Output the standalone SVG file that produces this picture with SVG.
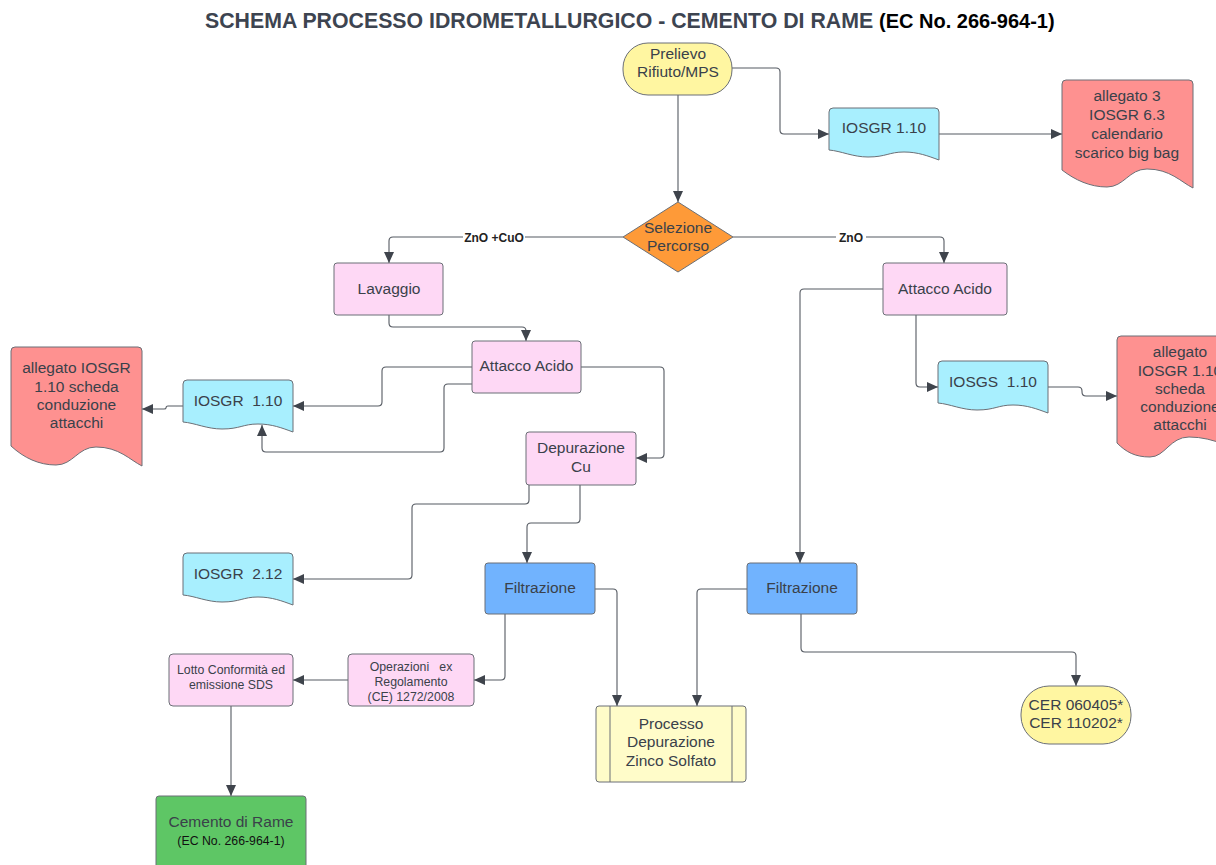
<svg xmlns="http://www.w3.org/2000/svg" width="1216" height="865" viewBox="0 0 1216 865" xml:space="preserve">
<defs>
<marker id="ar" markerUnits="userSpaceOnUse" markerWidth="12" markerHeight="10" refX="11" refY="5" orient="auto">
<path d="M0,0 L11,5 L0,10 Z" fill="#3f444c"/>
</marker>
<style>
.t{font-family:"Liberation Sans",Arial,sans-serif;font-size:15.5px;fill:#3a414a;text-anchor:middle;white-space:pre}
.s{font-size:12.3px}
.sh{stroke:#6b6f76;stroke-width:1}
.pink{fill:#fed8f5}
.blue{fill:#71b3fe}
.cyan{fill:#a8effe}
.red{fill:#fe9190}
.yel{fill:#fff6a1}
.lyel{fill:#fffcc9}
.grn{fill:#5ec665}
.c{fill:none;stroke:#555a62;stroke-width:1.1;marker-end:url(#ar)}
.lbl{font-family:"Liberation Sans",Arial,sans-serif;font-size:12px;font-weight:bold;fill:#222;text-anchor:middle}
</style>
</defs>
<rect width="1216" height="865" fill="#ffffff"/>
<text x="205" y="28" font-family="Liberation Sans,Arial,sans-serif" font-weight="bold" font-size="21.3" fill="#3d4450">SCHEMA PROCESSO IDROMETALLURGICO - CEMENTO DI RAME <tspan font-size="20" fill="#000">(EC No. 266-964-1)</tspan></text>

<g id="connectors">
<path class="c" d="M732,68 H776 Q780,68 780,72 V130 Q780,134 784,134 H829"/>
<path class="c" d="M939,134 H1062"/>
<path class="c" d="M678,95 V202"/>
<path class="c" d="M623,237 H393 Q389,237 389,241 V263"/>
<path class="c" d="M733,237 H940 Q944,237 944,241 V263"/>
<path class="c" d="M389,315 V323 Q389,327 393,327 H522 Q526,327 526,331 V341"/>
<path class="c" d="M472,367 H386 Q382,367 382,371 V402 Q382,406 378,406 H293"/>
<path class="c" d="M472,384 H448 Q444,384 444,388 V448 Q444,452 440,452 H266 Q262,452 262,448 V425"/>
<path class="c" d="M183,406 H168 Q166,406 166,408 Q166,409 164,409 H142"/>
<path class="c" d="M581,367 H660 Q664,367 664,371 V454 Q664,458 660,458 H636"/>
<path class="c" d="M529,485 V500 Q529,504 525,504 H416 Q412,504 412,508 V575 Q412,579 408,579 H293"/>
<path class="c" d="M580,485 V519 Q580,523 576,523 H531 Q527,523 527,527 V563"/>
<path class="c" d="M595,589 H613 Q617,589 617,593 V706"/>
<path class="c" d="M747,589 H701 Q697,589 697,593 V706"/>
<path class="c" d="M801,614 V648 Q801,652 805,652 H1072 Q1076,652 1076,656 V686"/>
<path class="c" d="M505,614 V676 Q505,680 501,680 H474"/>
<path class="c" d="M348,680 H293"/>
<path class="c" d="M231,706 V796"/>
<path class="c" d="M883,289 H804 Q800,289 800,293 V563"/>
<path class="c" d="M916,315 V383 Q916,387 920,387 H938"/>
<path class="c" d="M1048,387 H1078 Q1082,387 1082,391 V392 Q1082,396 1086,396 H1117"/>
<rect x="463" y="230" width="62" height="14" fill="#fff"/>
<text class="lbl" x="494" y="241.5">ZnO +CuO</text>
<rect x="836" y="230" width="30" height="14" fill="#fff"/>
<text class="lbl" x="851" y="241.5">ZnO</text>
</g>

<g id="prelievo">
<rect class="yel sh" x="623" y="43" width="109" height="52" rx="25"/>
<text class="t" x="678" y="59">Prelievo</text>
<text class="t" x="678" y="77">Rifiuto/MPS</text>
</g>

<g id="iosgr110-top">
<path class="cyan sh" d="M829,112 Q829,108 833,108 H935 Q939,108 939,112 V160 C928,156 918,152 904,152 C889,152 886,157 868,157 C853,157 841,151 829,150 Z"/>
<text class="t" x="884" y="133">IOSGR 1.10</text>
</g>

<g id="allegato3">
<path class="red sh" d="M1062,84 Q1062,80 1066,80 H1189 Q1193,80 1193,84 V188 C1181,182 1170,169 1147,169 C1129,169 1124,187 1107,187 C1090,187 1075,180 1062,170 Z"/>
<text class="t" x="1127" y="101">allegato 3</text>
<text class="t" x="1127" y="120">IOSGR 6.3</text>
<text class="t" x="1127" y="139">calendario</text>
<text class="t" x="1127" y="158">scarico big bag</text>
</g>

<g id="selezione">
<path d="M678,202 L733,237 L678,272 L623,237 Z" fill="#fe9a38" stroke="#6b6f76" stroke-width="1" stroke-linejoin="round"/>
<text class="t" x="678" y="233">Selezione</text>
<text class="t" x="678" y="251">Percorso</text>
</g>

<g id="lavaggio">
<rect class="pink sh" x="334" y="263" width="109" height="52" rx="3"/>
<text class="t" x="389" y="294">Lavaggio</text>
</g>

<g id="attacco-acido-dx">
<rect class="pink sh" x="883" y="263" width="124" height="52" rx="3"/>
<text class="t" x="945" y="294">Attacco Acido</text>
</g>

<g id="attacco-acido-sx">
<rect class="pink sh" x="472" y="341" width="109" height="52" rx="3"/>
<text class="t" x="526.5" y="371">Attacco Acido</text>
</g>

<g id="iosgr110-sx">
<path class="cyan sh" d="M183,384 Q183,380 187,380 H289 Q293,380 293,384 V432 C282,428 272,424 258,424 C243,424 240,429 222,429 C207,429 195,423 183,422 Z"/>
<text class="t" x="238" y="406">IOSGR  1.10</text>
</g>

<g id="allegato-sx">
<path class="red sh" d="M11,351 Q11,347 15,347 H138 Q142,347 142,351 V466 C130,460 119,447 96,447 C78,447 73,465 56,465 C39,465 24,458 11,446 Z"/>
<text class="t" x="76.5" y="373">allegato IOSGR</text>
<text class="t" x="76.5" y="392">1.10 scheda</text>
<text class="t" x="76.5" y="410">conduzione</text>
<text class="t" x="76.5" y="428">attacchi</text>
</g>

<g id="depurazione-cu">
<rect class="pink sh" x="526" y="432" width="110" height="53" rx="3"/>
<text class="t" x="581" y="453">Depurazione</text>
<text class="t" x="581" y="472">Cu</text>
</g>

<g id="iosgs110">
<path class="cyan sh" d="M938,365 Q938,361 942,361 H1044 Q1048,361 1048,365 V413 C1037,409 1027,405 1013,405 C998,405 995,410 977,410 C962,410 950,404 938,403 Z"/>
<text class="t" x="993" y="387">IOSGS  1.10</text>
</g>

<g id="allegato-dx">
<path class="red sh" d="M1117,340 Q1117,336 1121,336 H1244 Q1248,336 1248,340 V456 C1236,450 1215,437 1189,437 C1170,437 1165,457 1150,457 C1135,457 1126,452 1117,443 Z"/>
<text class="t" x="1180" y="357">allegato</text>
<text class="t" x="1180" y="376">IOSGR 1.10</text>
<text class="t" x="1180" y="394">scheda</text>
<text class="t" x="1180" y="412">conduzione</text>
<text class="t" x="1180" y="430">attacchi</text>
</g>

<g id="iosgr212">
<path class="cyan sh" d="M183,557 Q183,553 187,553 H289 Q293,553 293,557 V605 C282,601 272,597 258,597 C243,597 240,602 222,602 C207,602 195,596 183,595 Z"/>
<text class="t" x="238" y="579">IOSGR  2.12</text>
</g>

<g id="filtrazione-sx">
<rect class="blue sh" x="485" y="563" width="110" height="51" rx="3"/>
<text class="t" x="540" y="593">Filtrazione</text>
</g>

<g id="filtrazione-dx">
<rect class="blue sh" x="747" y="563" width="110" height="51" rx="3"/>
<text class="t" x="802" y="593">Filtrazione</text>
</g>

<g id="lotto">
<rect class="pink sh" x="169" y="654" width="124" height="52" rx="4"/>
<text class="t s" x="231" y="674">Lotto Conformità ed</text>
<text class="t s" x="231" y="689">emissione SDS</text>
</g>

<g id="operazioni">
<rect class="pink sh" x="348" y="654" width="126" height="52" rx="4"/>
<text class="t s" x="411" y="671">Operazioni   ex</text>
<text class="t s" x="411" y="686">Regolamento</text>
<text class="t s" x="411" y="701">(CE) 1272/2008</text>
</g>

<g id="processo">
<rect class="lyel sh" x="596" y="706" width="150" height="76" rx="3"/>
<path class="sh" d="M610,706 V782 M732,706 V782" fill="none"/>
<text class="t" x="671" y="729">Processo</text>
<text class="t" x="671" y="747">Depurazione</text>
<text class="t" x="671" y="766">Zinco Solfato</text>
</g>

<g id="cer">
<rect class="yel sh" x="1021" y="686" width="110" height="58" rx="28"/>
<text class="t" x="1076" y="710">CER 060405*</text>
<text class="t" x="1076" y="728">CER 110202*</text>
</g>

<g id="cemento">
<rect class="grn sh" x="156" y="796" width="150" height="80" rx="3"/>
<text class="t" x="231" y="827">Cemento di Rame</text>
<text class="t s" x="231" y="845" style="fill:#111">(EC No. 266-964-1)</text>
</g>
</svg>
